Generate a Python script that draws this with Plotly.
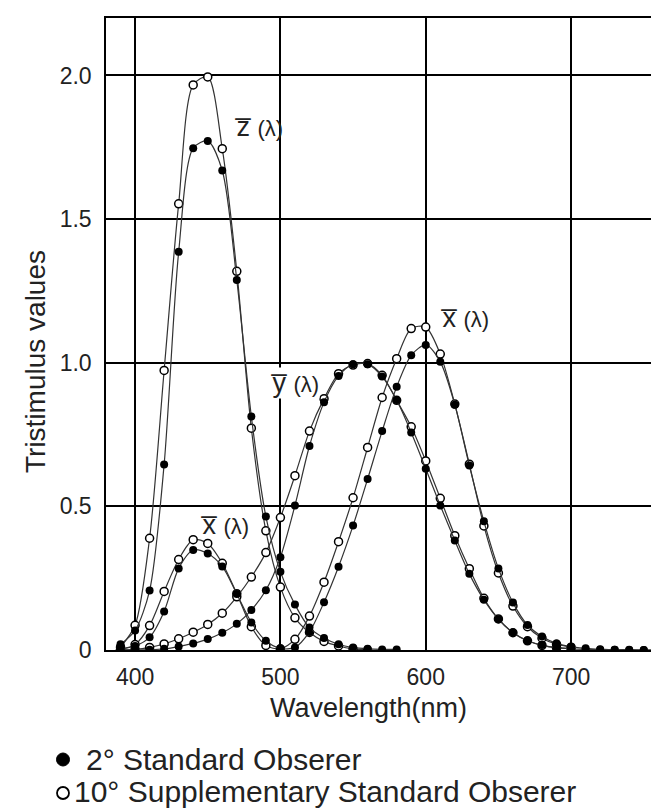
import plotly.graph_objects as go

# ---------------- data ----------------
wl2 = list(range(390, 790, 10))
x2 = [0.004, 0.014, 0.044, 0.134, 0.284, 0.348, 0.336, 0.291, 0.195, 0.096,
      0.032, 0.005, 0.009, 0.063, 0.166, 0.290, 0.433, 0.595, 0.762, 0.916,
      1.026, 1.062, 1.003, 0.854, 0.642, 0.448, 0.284, 0.165, 0.087, 0.047,
      0.023, 0.011, 0.006, 0.003, 0.001, 0.001, 0.000, 0.000, 0.000, 0.000]
y2 = [0.000, 0.000, 0.001, 0.004, 0.012, 0.023, 0.038, 0.060, 0.091, 0.139,
      0.208, 0.323, 0.503, 0.710, 0.862, 0.954, 0.995, 0.995, 0.952, 0.870,
      0.757, 0.631, 0.503, 0.381, 0.265, 0.175, 0.107, 0.061, 0.032, 0.017,
      0.008, 0.004, 0.002, 0.001, 0.001, 0.000, 0.000, 0.000, 0.000, 0.000]
wlz2 = list(range(390, 590, 10))
z2 = [0.020, 0.068, 0.207, 0.646, 1.386, 1.747, 1.772, 1.669, 1.288, 0.813,
      0.465, 0.272, 0.158, 0.078, 0.042, 0.020, 0.009, 0.004, 0.002, 0.002]

wl10 = list(range(390, 710, 10))
x10 = [0.002, 0.019, 0.085, 0.204, 0.315, 0.384, 0.371, 0.302, 0.196, 0.081,
       0.016, 0.004, 0.037, 0.118, 0.236, 0.377, 0.530, 0.705, 0.879, 1.014,
       1.119, 1.124, 1.030, 0.856, 0.647, 0.432, 0.268, 0.153, 0.081, 0.041,
       0.020, 0.010]
y10 = [0.000, 0.002, 0.009, 0.021, 0.039, 0.062, 0.089, 0.128, 0.185, 0.254,
       0.339, 0.461, 0.607, 0.762, 0.875, 0.962, 0.992, 0.997, 0.956, 0.869,
       0.777, 0.658, 0.528, 0.398, 0.283, 0.180, 0.108, 0.060, 0.032, 0.016,
       0.008, 0.004]
wlz10 = list(range(390, 570, 10))
z10 = [0.010, 0.086, 0.389, 0.973, 1.553, 1.967, 1.995, 1.745, 1.318, 0.772,
       0.415, 0.219, 0.112, 0.061, 0.030, 0.014, 0.004, 0.000]

x_ticks = [400, 500, 600, 700]
y_ticks = [0, 0.5, 1.0, 1.5, 2.0]
y_ticktext = ["0", "0.5", "1.0", "1.5", "2.0"]

FONT = "Liberation Sans, Arial, Helvetica, sans-serif"
W, H = 659, 810
L, T, B = 98, 10, 168
PW, PH = W - L, H - T - B

def px(xp):
    return (xp - L) / PW

def py(yp):
    return (H - B - yp) / PH

fig = go.Figure()

line_style = dict(color="#333333", width=1.2, shape="spline", smoothing=0.8)
open_marker = dict(symbol="circle", size=8, color="white",
                   line=dict(color="black", width=1.5))
fill_marker = dict(symbol="circle", size=8, color="black",
                   line=dict(color="black", width=0))

for xs, ys in [(wl10, x10), (wl10, y10), (wlz10, z10)]:
    fig.add_trace(go.Scatter(x=xs, y=ys, mode="lines+markers", line=line_style,
                             marker=open_marker, showlegend=False, cliponaxis=True))
for xs, ys in [(wl2, x2), (wl2, y2), (wlz2, z2)]:
    fig.add_trace(go.Scatter(x=xs, y=ys, mode="lines+markers", line=line_style,
                             marker=fill_marker, showlegend=False, cliponaxis=True))

# curve labels (only the y-bar label masks the grid line behind it)
labels = [
    ("z\u0305", 468.0, 1.82, "rgba(0,0,0,0)"),
    ("y\u0305", 492.5, 0.93, "white"),
    ("x\u0305", 445.0, 0.435, "rgba(0,0,0,0)"),
    ("x\u0305", 609.5, 1.155, "rgba(0,0,0,0)"),
]
for letter, lx, ly, bg in labels:
    fig.add_annotation(
        x=lx, y=ly, xref="x", yref="y", xanchor="left", yanchor="middle",
        text=letter + " <span style='font-size:22px'>(λ)</span>",
        showarrow=False, bgcolor=bg, borderpad=0,
        font=dict(family=FONT, size=27, color="#222"))

# axis titles
fig.add_annotation(x=px(27), y=py(354), xref="paper", yref="paper",
                   text="Tristimulus values", textangle=-90, showarrow=False,
                   xanchor="center", yanchor="middle",
                   font=dict(family=FONT, size=28, color="#222"))
fig.add_annotation(x=px(360), y=py(700), xref="paper", yref="paper",
                   text="Wavelength(nm)", showarrow=False,
                   xanchor="center", yanchor="middle",
                   font=dict(family=FONT, size=27, color="#222"))

# legend (as text + circle shapes)
fig.add_shape(type="circle", xref="paper", yref="paper",
              x0=px(48.5), x1=px(61.5), y0=py(758), y1=py(745),
              fillcolor="black", line=dict(color="black", width=1))
fig.add_shape(type="circle", xref="paper", yref="paper",
              x0=px(49), x1=px(61), y0=py(791), y1=py(779),
              fillcolor="white", line=dict(color="black", width=1.8))
fig.add_annotation(x=px(76), y=py(751), xref="paper", yref="paper",
                   text="2° Standard Obserer", showarrow=False,
                   xanchor="left", yanchor="middle",
                   font=dict(family=FONT, size=30, color="#222"))
fig.add_annotation(x=px(64), y=py(783), xref="paper", yref="paper",
                   text="10° Supplementary Standard Obserer", showarrow=False,
                   xanchor="left", yanchor="middle",
                   font=dict(family=FONT, size=30, color="#222"))

fig.update_layout(
    width=W, height=H,
    margin=dict(l=L, r=0, t=T, b=B, pad=0),
    paper_bgcolor="white", plot_bgcolor="white",
    showlegend=False,
    font=dict(family=FONT, color="#222"),
)
fig.update_xaxes(
    range=[380, 766], tickvals=x_ticks, showgrid=True, gridcolor="black",
    gridwidth=1.5, showline=True, linecolor="black", linewidth=1.5, mirror=True,
    ticks="", zeroline=False, tickfont=dict(family=FONT, size=23, color="#222"),
    ticklabelstandoff=6,
)
fig.update_yaxes(
    range=[0, 2.2], tickvals=y_ticks, ticktext=y_ticktext, showgrid=True,
    gridcolor="black", gridwidth=1.5, showline=True, linecolor="black",
    linewidth=1.5, mirror=False, ticks="", zeroline=False,
    tickfont=dict(family=FONT, size=23, color="#222"), ticklabelstandoff=8,
)

fig.write_html("out.html")
